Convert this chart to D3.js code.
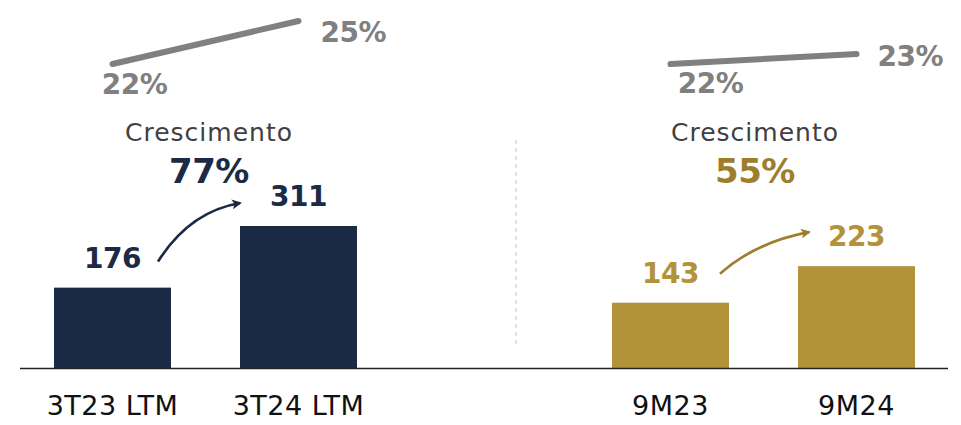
<!DOCTYPE html>
<html><head><meta charset="utf-8">
<script src="https://cdn.jsdelivr.net/npm/d3@7"></script>
<style>body{margin:0;background:#fff}svg{display:block}</style>
</head><body>
<svg id="c" width="961" height="425"></svg>
<script>
// ---- data ----
const categories = ["3T23 LTM", "3T24 LTM", "", "9M23", "9M24"];
const leftCats = ["3T23 LTM", "3T24 LTM"];
const leftValues = [176, 311];
const rightCats = ["9M23", "9M24"];
const rightValues = [143, 223];
const leftMargin = [22, 25];
const rightMargin = [22, 23];
const leftGrowth = "77%";
const rightGrowth = "55%";
const growthTitle = "Crescimento";

// ---- layout ----
const svg = d3.select("#c");
const base = 368;
const font = "'DejaVu Sans', sans-serif";
const navy = "#1B2A45", gold = "#B3933A", goldDark = "#9E7D2D", gray = "#808080";

const x = d3.scaleBand().domain(categories).range([54, 915]).paddingInner(0.371).paddingOuter(0);
const y = d3.scaleLinear().domain([0, 311]).range([base, 226]);
const bw = x.bandwidth();

const defs = svg.append("defs");
function marker(id, color) {
  defs.append("marker").attr("id", id).attr("viewBox", "0 0 10 10")
    .attr("refX", 8).attr("refY", 5).attr("markerWidth", 12).attr("markerHeight", 10)
    .attr("markerUnits", "userSpaceOnUse").attr("orient", "auto")
    .append("path").attr("d", "M0,0 L10,5 L0,10 L2.5,5 Z").attr("fill", color);
}
marker("aN", navy); marker("aG", goldDark);

// divider
svg.append("line").attr("x1", 516).attr("x2", 516).attr("y1", 140).attr("y2", 346)
  .attr("stroke", "#BFBFBF").attr("stroke-width", 1).attr("stroke-dasharray", "4,4");

function panel(cats, vals, margin, color, labelColor, growth, growthColor, arrowId, cfg) {
  const g = svg.append("g");
  g.selectAll("rect").data(vals).join("rect")
    .attr("x", (d, i) => x(cats[i])).attr("y", d => y(d))
    .attr("width", bw).attr("height", d => base - y(d)).attr("fill", color);
  g.selectAll("text.v").data(vals).join("text").attr("class", "v")
    .attr("x", (d, i) => x(cats[i]) + bw / 2).attr("y", d => y(d) - 20)
    .attr("text-anchor", "middle").attr("font-family", font).attr("font-weight", "bold")
    .attr("font-size", 28).attr("letter-spacing", "-0.5px").attr("fill", labelColor).text(d => d);
  g.selectAll("text.c").data(cats).join("text").attr("class", "c")
    .attr("x", d => x(d) + bw / 2).attr("y", 415)
    .attr("text-anchor", "middle").attr("font-family", font)
    .attr("font-size", 27).attr("letter-spacing", "0.5px").attr("fill", "#111").text(d => d);
  const cx = cfg.gx;
  g.append("text").attr("x", cx).attr("y", 141).attr("text-anchor", "middle")
    .attr("font-family", font).attr("font-size", 25).attr("letter-spacing", "1px")
    .attr("fill", "#404040").text(growthTitle);
  g.append("text").attr("x", cx).attr("y", 183).attr("text-anchor", "middle")
    .attr("font-family", font).attr("font-weight", "bold").attr("font-size", 34)
    .attr("letter-spacing", "-0.5px").attr("fill", growthColor).text(growth);
  const x0 = x(cats[0]) + bw + cfg.a0[0], y0 = y(vals[0]) + cfg.a0[1];
  const x1 = x(cats[1]) + cfg.a1[0], y1 = y(vals[1]) + cfg.a1[1];
  const p = d3.path();
  p.moveTo(x0, y0);
  p.quadraticCurveTo(x0 + (x1 - x0) * cfg.c[0], y1 + (y0 - y1) * cfg.c[1], x1, y1);
  g.append("path").attr("d", p.toString()).attr("fill", "none").attr("stroke", growthColor)
    .attr("stroke-width", 2.7).attr("marker-end", `url(#${arrowId})`);
  const ym = d3.scaleLinear().domain(cfg.mDom).range([64, cfg.mTop]);
  const pts = margin.map((m, i) => [x(cats[i]) + bw / 2, ym(m)]);
  g.append("path").attr("d", d3.line()(pts)).attr("fill", "none").attr("stroke", gray)
    .attr("stroke-width", 6).attr("stroke-linecap", "round");
  g.append("text").attr("x", pts[0][0] + cfg.l0[0]).attr("y", pts[0][1] + cfg.l0[1])
    .attr("text-anchor", "middle").attr("font-family", font).attr("font-weight", "bold")
    .attr("font-size", 28).attr("letter-spacing", "-0.5px").attr("fill", gray).text(margin[0] + "%");
  g.append("text").attr("x", pts[1][0] + cfg.l1[0]).attr("y", pts[1][1] + cfg.l1[1])
    .attr("text-anchor", "start").attr("font-family", font).attr("font-weight", "bold")
    .attr("font-size", 28).attr("letter-spacing", "-0.5px").attr("fill", gray).text(margin[1] + "%");
}

panel(leftCats, leftValues, leftMargin, navy, navy, leftGrowth, navy, "aN",
  { gx: 209, a0: [-13, -26], a1: [0, -23], c: [0.38, 0.15], mDom: [22, 25], mTop: 21, l0: [22, 30], l1: [22, 21] });
panel(rightCats, rightValues, rightMargin, gold, gold, rightGrowth, goldDark, "aG",
  { gx: 755, a0: [-9, -29], a1: [11, -34], c: [0.4, 0.24], mDom: [22, 23], mTop: 54, l0: [40, 29], l1: [21, 12] });

svg.append("line").attr("x1", 20).attr("x2", 948).attr("y1", base + 0.5).attr("y2", base + 0.5)
  .attr("stroke", "#222").attr("stroke-width", 1.5);
</script>
</body></html>
